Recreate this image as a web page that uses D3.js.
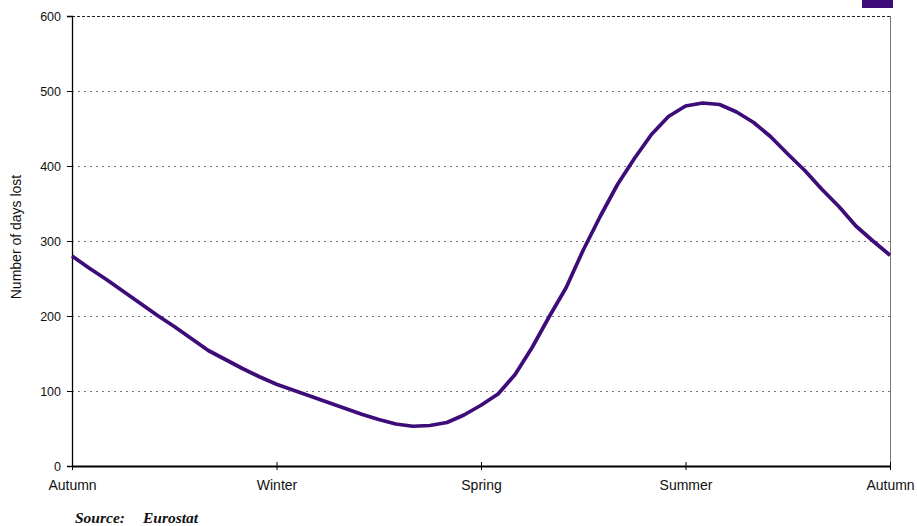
<!DOCTYPE html>
<html>
<head>
<meta charset="utf-8">
<script src="https://cdn.jsdelivr.net/npm/d3@7"></script>
<style>
  body { margin: 0; background: #fff; }
  svg { display: block; }
</style>
</head>
<body>
<svg id="chart" width="917" height="526"></svg>
<script>
// Season tick labels (x axis)
const seasons = ["Autumn", "Winter", "Spring", "Summer", "Autumn"];
// Position along the year, in units of seasons (0..4), every 1/12 season
const positions = d3.range(0, 49).map(i => i / 12);
// Number of days lost
const daysLost = [
  280, 264, 249, 233, 217, 201, 186, 170, 154, 142, 130, 119, 109,
  101, 93, 85, 77, 69, 62, 56, 53, 54, 58, 68, 81,
  96, 122, 158, 199, 238, 288, 333, 375, 410, 442, 466, 480,
  484, 482, 472, 458, 439, 416, 394, 369, 346, 320, 300, 281
];
const yTicks = [0, 100, 200, 300, 400, 500, 600];

const svg = d3.select("#chart");
const mLeft = 72, mRight = 890, mTop = 16, mBottom = 466;
const purple = "#3d0c78";
const sans = "'Liberation Sans', Arial, sans-serif";

const x = d3.scaleLinear().domain([0, 4]).range([mLeft, mRight]);
const y = d3.scaleLinear().domain([0, 600]).range([mBottom, mTop]);

// Gridlines
svg.append("g").selectAll("line")
  .data(yTicks.filter(v => v > 0 && v < 600))
  .join("line")
  .attr("x1", mLeft).attr("x2", mRight)
  .attr("y1", d => y(d) + 0.5).attr("y2", d => y(d) + 0.5)
  .attr("stroke", "#777").attr("stroke-width", 1)
  .attr("stroke-dasharray", "2,4");

// top border (dashed, darker)
svg.append("line")
  .attr("x1", mLeft).attr("x2", mRight)
  .attr("y1", y(600) + 0.5).attr("y2", y(600) + 0.5)
  .attr("stroke", "#222").attr("stroke-width", 1)
  .attr("stroke-dasharray", "3,2");

// right border
svg.append("line")
  .attr("x1", mRight + 0.5).attr("x2", mRight + 0.5)
  .attr("y1", mTop).attr("y2", mBottom + 4)
  .attr("stroke", "#777").attr("stroke-width", 1);

// Y axis
const yAxis = d3.axisLeft(y).tickValues(yTicks).tickSize(5).tickPadding(6);
const gy = svg.append("g").attr("transform", `translate(${mLeft},0)`).call(yAxis);
gy.select(".domain").attr("stroke", "#000").attr("stroke-width", 1.3);
gy.selectAll(".tick line").attr("stroke", "#000");
gy.selectAll(".tick text").style("font-size", "12.5px").attr("fill", "#111")
  .style("font-family", sans);

// X axis
const xAxis = d3.axisBottom(x).tickValues([0, 1, 2, 3, 4])
  .tickFormat((d, i) => seasons[i]).tickSizeInner(4).tickSizeOuter(0).tickPadding(10);
const gx = svg.append("g").attr("transform", `translate(0,${mBottom})`).call(xAxis);
gx.select(".domain").attr("stroke", "#000").attr("stroke-width", 2);
gx.selectAll(".tick line").attr("stroke", "#000").attr("y1", -4).attr("y2", 4);
gx.selectAll(".tick text").style("font-size", "14px").attr("fill", "#111")
  .style("font-family", sans);

// Line
const line = d3.line()
  .x((d, i) => x(positions[i]))
  .y(d => y(d))
  .curve(d3.curveLinear);
svg.append("path")
  .datum(daysLost)
  .attr("d", line)
  .attr("fill", "none")
  .attr("stroke", purple)
  .attr("stroke-width", 3.7)
  .attr("stroke-linejoin", "round");

// Legend swatch
svg.append("rect")
  .attr("x", 862).attr("y", 0).attr("width", 31).attr("height", 8)
  .attr("fill", purple);

// Y axis title
svg.append("text")
  .attr("transform", `translate(21,${(mTop + mBottom) / 2 - 4}) rotate(-90)`)
  .attr("text-anchor", "middle")
  .style("font-family", sans)
  .style("font-size", "14px")
  .attr("fill", "#111")
  .text("Number of days lost");

// Source
const src = svg.append("text")
  .attr("y", 523)
  .style("font-family", "'Liberation Serif', 'Times New Roman', serif")
  .style("font-style", "italic").style("font-weight", "bold")
  .style("font-size", "15.5px").attr("fill", "#111");
src.append("tspan").attr("x", 75).text("Source:");
src.append("tspan").attr("x", 143).text("Eurostat");
</script>
</body>
</html>
